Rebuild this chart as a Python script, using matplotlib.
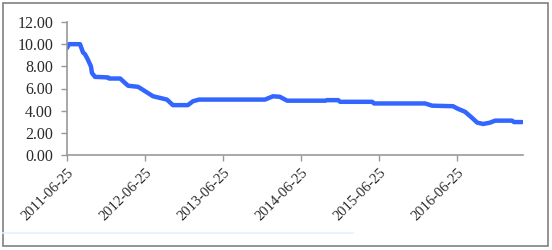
import matplotlib
matplotlib.use("Agg")
import matplotlib.pyplot as plt
import matplotlib.patches as mpatches
import pandas as pd

dates = ["2011-06-25", "2011-07-04", "2011-08-25", "2011-09-08", "2011-09-17",
         "2011-10-01", "2011-10-15", "2011-10-20", "2011-11-03", "2012-01-03",
         "2012-01-08", "2012-02-29", "2012-04-06", "2012-05-23", "2012-08-01",
         "2012-10-05", "2012-11-02", "2013-01-11", "2013-02-04", "2013-03-04",
         "2014-01-07", "2014-02-14", "2014-03-18", "2014-04-21", "2014-10-16",
         "2014-10-25", "2014-12-16", "2014-12-25", "2015-05-24", "2015-06-02",
         "2016-01-27", "2016-02-29", "2016-06-06", "2016-06-25", "2016-08-01",
         "2016-09-03", "2016-09-27", "2016-10-25", "2016-11-26", "2016-12-20",
         "2017-03-09", "2017-03-18", "2017-04-25"]
values = [9.65, 10.0, 10.0, 9.25, 9.1,
          8.6, 8.0, 7.4, 7.05, 7.0,
          6.9, 6.9, 6.25, 6.15, 5.3,
          5.0, 4.5, 4.5, 4.85, 5.0,
          5.0, 5.3, 5.25, 4.9, 4.9,
          4.95, 4.95, 4.8, 4.8, 4.65,
          4.65, 4.45, 4.4, 4.2, 3.9,
          3.35, 2.92, 2.8, 2.92, 3.1,
          3.1, 2.97, 2.97]
tick_dates = ["2011-06-25", "2012-06-25", "2013-06-25", "2014-06-25",
              "2015-06-25", "2016-06-25"]
y_ticks = [0, 2, 4, 6, 8, 10, 12]

x = pd.to_datetime(dates)
xt = pd.to_datetime(tick_dates)

fig = plt.figure(figsize=(5.52, 2.5), dpi=100)
ax = fig.add_axes([67/552, 1-155/250, (522.7-67)/552, (155-22)/250])

ax.plot(x, values, color="#3366ff", lw=3.2, solid_joinstyle="round",
        solid_capstyle="round")

ax.set_ylim(0, 12)
ax.set_yticks(y_ticks)
ax.set_yticklabels([f"{v:.2f}" for v in y_ticks])
ax.set_xlim(pd.Timestamp("2011-06-25"), pd.Timestamp("2017-04-28"))
ax.set_xticks(xt)
ax.set_xticklabels(tick_dates, rotation=45, ha="right", rotation_mode="anchor")

for s in ["top", "right"]:
    ax.spines[s].set_visible(False)
for s in ["left", "bottom"]:
    ax.spines[s].set_color("#999999")
    ax.spines[s].set_linewidth(1.2)
ax.tick_params(direction="out", length=4, width=1.0, color="#999999")
for lab in ax.get_yticklabels():
    lab.set_fontfamily("Liberation Serif")
    lab.set_fontsize(11.5)
    lab.set_color("#2a2a2a")
for lab in ax.get_xticklabels():
    lab.set_fontfamily("Liberation Serif")
    lab.set_fontsize(10.5)
    lab.set_color("#2a2a2a")
ax.tick_params(axis="y", pad=6)
ax.tick_params(axis="x", pad=4)

# faint strip and outer frame
fig.add_artist(plt.Line2D([3/552, 353/552], [1-233/250, 1-233/250],
                          transform=fig.transFigure, color="#e8f1fb", lw=1.2))
fig.add_artist(mpatches.Rectangle((3/552, 1-246/250), 545/552, 243/250,
                                  transform=fig.transFigure, fill=False,
                                  edgecolor="#808080", lw=1.2))

fig.savefig("out.png", dpi=100)
